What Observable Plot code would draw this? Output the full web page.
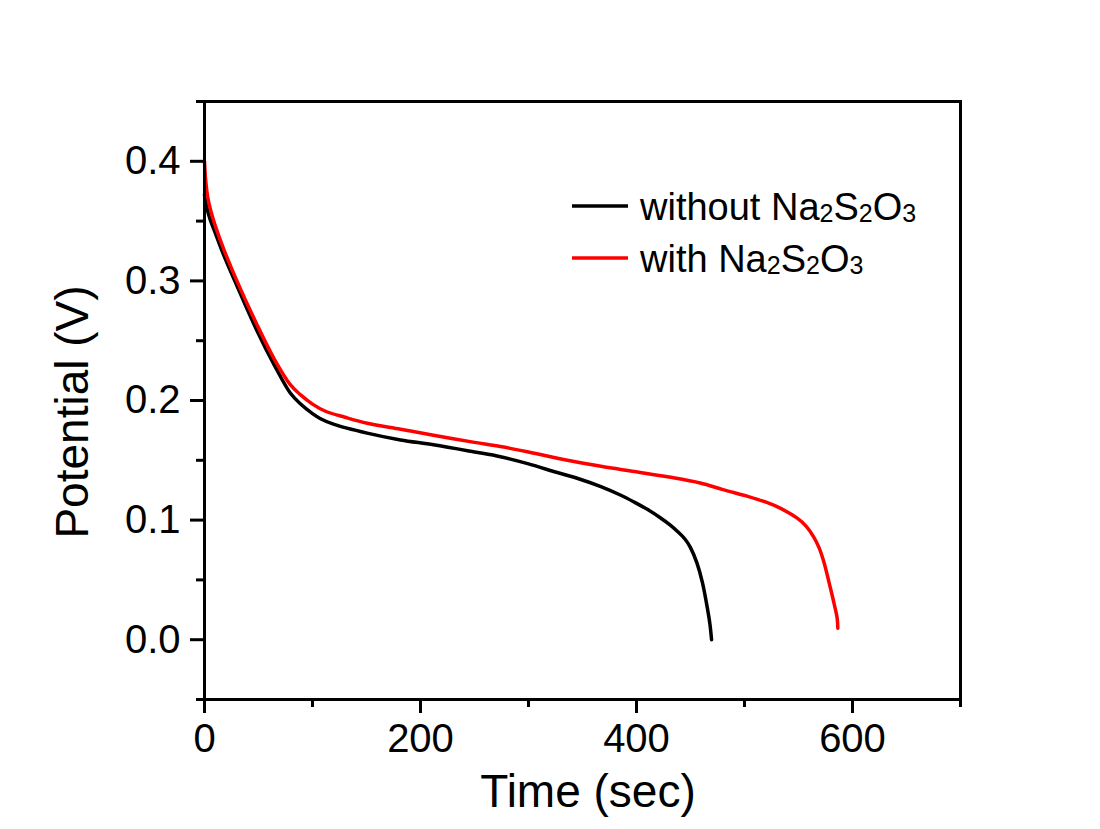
<!DOCTYPE html>
<html>
<head>
<meta charset="utf-8">
<script src="https://cdn.jsdelivr.net/npm/d3@7"></script>
<script src="https://cdn.jsdelivr.net/npm/@observablehq/plot@0.6"></script>
<style>
  html, body { margin: 0; padding: 0; background: #ffffff; }
  #chart svg { display: block; }
</style>
</head>
<body>
<div id="chart"></div>
<script>
// ---- Data ----
const seriesNames = ["without Na2S2O3", "with Na2S2O3"];
const seriesColors = ["#000000", "#ff0000"];

const timeWithout = [0, 2, 5, 10, 17.6, 30, 48.8, 65, 79.6, 89, 100, 107, 120, 150.6, 181.5, 212, 250, 274, 300, 320, 345, 367, 385, 398, 410, 422, 431, 438, 445, 450, 456, 461, 465.5, 468, 469.5];
const potentialWithout = [0.372, 0.362, 0.352, 0.340, 0.322, 0.296, 0.258, 0.229, 0.206, 0.197, 0.189, 0.185, 0.180, 0.1727, 0.167, 0.163, 0.157, 0.153, 0.147, 0.1415, 0.135, 0.128, 0.121, 0.115, 0.109, 0.102, 0.096, 0.0905, 0.084, 0.077, 0.064, 0.048, 0.027, 0.013, 0.0];

const timeWith = [0, 1, 3, 6, 10, 17.6, 30, 48.8, 65, 79.6, 89, 100, 112, 130, 150.6, 181.5, 212, 250, 274, 300, 336, 367, 398, 430, 459, 480, 502.5, 520, 533, 548.8, 557, 564, 569, 573.5, 579.6, 583, 585.8, 586.4];
const potentialWith = [0.400, 0.385, 0.370, 0.358, 0.346, 0.327, 0.300, 0.263, 0.234, 0.213, 0.2047, 0.197, 0.191, 0.186, 0.181, 0.176, 0.171, 0.165, 0.1615, 0.157, 0.150, 0.145, 0.1406, 0.136, 0.131, 0.1255, 0.120, 0.115, 0.110, 0.1016, 0.095, 0.086, 0.077, 0.065, 0.043, 0.030, 0.018, 0.0096];

const xMajorTicks = [0, 200, 400, 600];
const xMinorTicks = [100, 300, 500, 700];
const yMajorTicks = [0.0, 0.1, 0.2, 0.3, 0.4];
const yMinorTicks = [-0.05, 0.05, 0.15, 0.25, 0.35, 0.45];

const xTitle = "Time (sec)";
const yTitle = "Potential (V)";

// ---- Build table ----
const rows = [
  ...timeWithout.map((t, i) => ({series: seriesNames[0], t, v: potentialWithout[i]})),
  ...timeWith.map((t, i) => ({series: seriesNames[1], t, v: potentialWith[i]}))
];

const FONT = "'Liberation Sans', Arial, Helvetica, sans-serif";

const plot = Plot.plot({
  width: 1100,
  height: 829,
  marginLeft: 204,
  marginRight: 140,
  marginTop: 101,
  marginBottom: 130,
  style: {fontFamily: FONT, background: "#ffffff", color: "#000000"},
  x: {domain: [0, 700]},
  y: {domain: [-0.05, 0.45]},
  color: {domain: seriesNames, range: seriesColors},
  marks: [
    Plot.line(rows, {x: "t", y: "v", z: "series", stroke: "series", strokeWidth: 3.5, curve: "catmull-rom"}),
    Plot.axisX({ticks: xMajorTicks, tickSize: 14, tickPadding: 10, fontSize: 40, strokeWidth: 3, tickFormat: d => String(d), label: null}),
    Plot.axisX({ticks: xMinorTicks, tickSize: 8, strokeWidth: 3, tickFormat: () => "", label: null}),
    Plot.axisY({ticks: yMajorTicks, tickSize: 14, tickPadding: 10, fontSize: 40, strokeWidth: 3, tickFormat: d3.format(".1f"), label: null}),
    Plot.axisY({ticks: yMinorTicks, tickSize: 8, strokeWidth: 3, tickFormat: () => "", label: null}),
    Plot.frame({stroke: "#000000", strokeWidth: 3})
  ]
});

document.getElementById("chart").appendChild(plot);

// ---- Axis titles and legend ----
const svg = d3.select(plot);

svg.append("text")
  .attr("x", 588).attr("y", 807)
  .attr("text-anchor", "middle")
  .attr("font-family", FONT).attr("font-size", 46).attr("fill", "#000")
  .text(xTitle);

svg.append("text")
  .attr("transform", "translate(88,412) rotate(-90)")
  .attr("text-anchor", "middle")
  .attr("font-family", FONT).attr("font-size", 46).attr("fill", "#000")
  .text(yTitle);

const legendRows = [
  {color: seriesColors[0], prefix: "without ", y: 206},
  {color: seriesColors[1], prefix: "with ", y: 258}
];
legendRows.forEach((r) => {
  svg.append("line")
    .attr("x1", 572).attr("x2", 628).attr("y1", r.y).attr("y2", r.y)
    .attr("stroke", r.color).attr("stroke-width", 3.5);
  const t = svg.append("text")
    .attr("x", 640).attr("y", r.y + 14)
    .attr("text-anchor", "start")
    .attr("font-family", FONT).attr("font-size", 38).attr("fill", "#000");
  const parts = [[r.prefix + "Na", false], ["2", true], ["S", false], ["2", true], ["O", false], ["3", true]];
  let shift = 0;
  parts.forEach(([s, sub]) => {
    const target = sub ? 2 : 0;
    const ts = t.append("tspan").text(s).attr("dy", target - shift);
    if (sub) ts.attr("font-size", 25);
    shift = target;
  });
});
</script>
</body>
</html>
